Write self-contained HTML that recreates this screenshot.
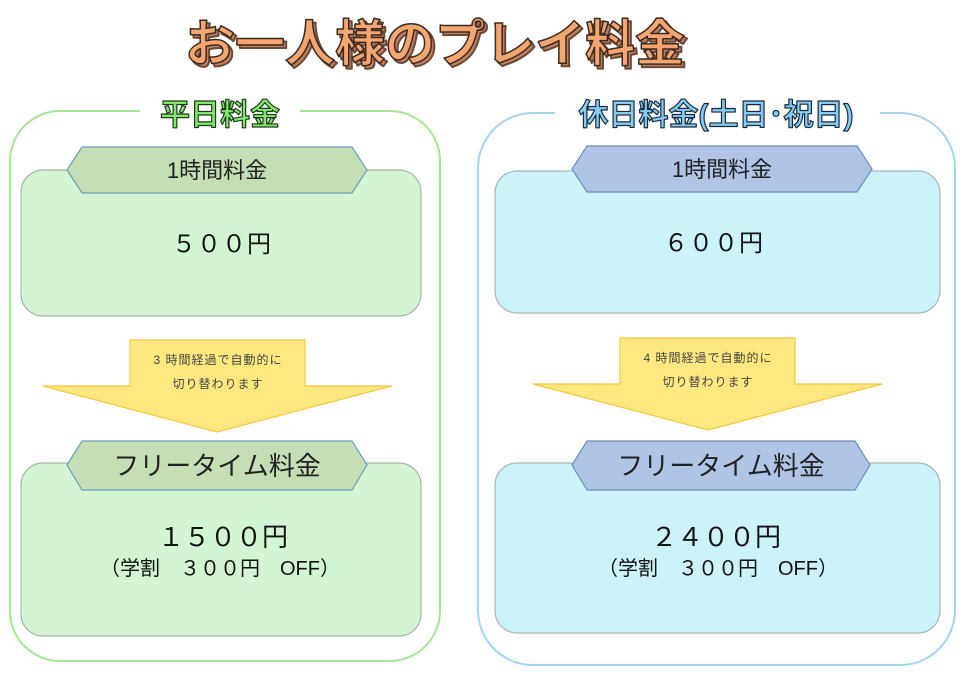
<!DOCTYPE html>
<html><head><meta charset="utf-8"><style>
html,body{margin:0;padding:0;background:#fff;}
svg text{font-family:"Liberation Sans","Noto Sans CJK JP",sans-serif;}
</style></head><body>
<svg width="965" height="682" viewBox="0 0 965 682" xmlns="http://www.w3.org/2000/svg">
<rect width="965" height="682" fill="#fff"/>
<!-- Title -->
<text x="438" y="64" text-anchor="middle" font-size="50" font-weight="bold" fill="#c08060" stroke="#6a4a38" stroke-width="2" stroke-linejoin="round">お一人様のプレイ料金</text>
<text x="435" y="61" text-anchor="middle" font-size="50" font-weight="bold" fill="#f4a570" stroke="#3a2a20" stroke-width="1.5" stroke-linejoin="round">お一人様のプレイ料金</text>

<!-- Left frame -->
<rect x="10" y="111" width="430" height="550" rx="50" fill="none" stroke="#a5e696" stroke-width="2"/>
<rect x="140" y="95" width="160" height="35" fill="#fff"/>
<text x="220" y="125" text-anchor="middle" font-size="30" font-weight="bold" fill="#80e86c" stroke="#1f3a1a" stroke-width="1.2" stroke-linejoin="round">平日料金</text>

<!-- Right frame -->
<rect x="478" y="113" width="477" height="552" rx="55" fill="none" stroke="#a3d6ec" stroke-width="2"/>
<rect x="555" y="95" width="325" height="35" fill="#fff"/>
<text x="716" y="125" text-anchor="middle" font-size="30" font-weight="bold" fill="#86ccf2" stroke="#1a2a3a" stroke-width="1.2" stroke-linejoin="round">休日料金(土日･祝日)</text>

<!-- Left top -->
<rect x="21" y="170" width="400" height="146" rx="22" fill="#d3f5d3" stroke="#a9b7a9" stroke-width="1.2"/>
<polygon points="67,170 82,147 352,147 367,170 352,193 82,193" fill="#c5deb5" stroke="#6aa0b8" stroke-width="1.2"/>
<text x="217" y="178" text-anchor="middle" font-size="22" fill="#222">1時間料金</text>
<text x="222" y="252" text-anchor="middle" font-size="24" fill="#111" letter-spacing="1">５００円</text>

<!-- Left arrow -->
<polygon points="130,340 305,340 305,386 392,386 217,432 43,386 130,386" fill="#ffe880" stroke="#f5c842" stroke-width="1.2"/>
<text x="218" y="364" text-anchor="middle" font-size="12" fill="#444" letter-spacing="1">3 時間経過で自動的に</text>
<text x="218" y="388" text-anchor="middle" font-size="12" fill="#444" letter-spacing="1">切り替わります</text>

<!-- Left bottom -->
<rect x="21" y="463" width="400" height="173" rx="22" fill="#d3f5d3" stroke="#a9b7a9" stroke-width="1.2"/>
<polygon points="67,465 82,441 352,441 367,465 352,490 82,490" fill="#c5deb5" stroke="#6aa0b8" stroke-width="1.2"/>
<text x="217" y="475" text-anchor="middle" font-size="26" fill="#222">フリータイム料金</text>
<text x="223" y="546" text-anchor="middle" font-size="26" fill="#111" letter-spacing="0">１５００円</text>
<text x="220" y="575" text-anchor="middle" font-size="20" fill="#111" xml:space="preserve">（学割　３００円　OFF）</text>

<!-- Right top -->
<rect x="495" y="171" width="445" height="142" rx="22" fill="#ccf2fa" stroke="#a9b7b9" stroke-width="1.2"/>
<polygon points="572,169 587,146 857,146 872,169 857,192 587,192" fill="#b0c4e6" stroke="#6a90b8" stroke-width="1.2"/>
<text x="722" y="177" text-anchor="middle" font-size="22" fill="#222">1時間料金</text>
<text x="714" y="251" text-anchor="middle" font-size="24" fill="#111" letter-spacing="1">６００円</text>

<!-- Right arrow -->
<polygon points="620,338 795,338 795,384 882,384 708,430 533,384 620,384" fill="#ffe880" stroke="#f5c842" stroke-width="1.2"/>
<text x="708" y="362" text-anchor="middle" font-size="12" fill="#444" letter-spacing="1">4 時間経過で自動的に</text>
<text x="708" y="386" text-anchor="middle" font-size="12" fill="#444" letter-spacing="1">切り替わります</text>

<!-- Right bottom -->
<rect x="495" y="463" width="445" height="170" rx="22" fill="#ccf2fa" stroke="#a9b7b9" stroke-width="1.2"/>
<polygon points="572,465 587,441 855,441 870,465 855,490 587,490" fill="#b0c4e6" stroke="#6a90b8" stroke-width="1.2"/>
<text x="721" y="475" text-anchor="middle" font-size="26" fill="#222">フリータイム料金</text>
<text x="716" y="546" text-anchor="middle" font-size="26" fill="#111" letter-spacing="0">２４００円</text>
<text x="718" y="575" text-anchor="middle" font-size="20" fill="#111" xml:space="preserve">（学割　３００円　OFF）</text>
</svg>
</body></html>
